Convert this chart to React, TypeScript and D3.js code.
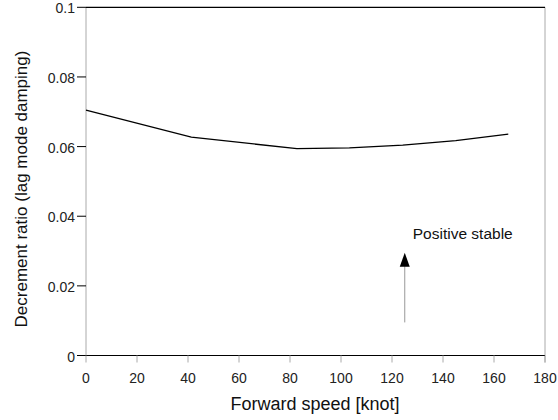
import React from "react";
import * as d3 from "d3";

const speeds = [0, 41.3, 82.7, 103.3, 124.2, 145, 165.6];
const ratios = [0.0705, 0.0627, 0.0594, 0.0596, 0.0604, 0.0617, 0.0636];
const xTicks = [0, 20, 40, 60, 80, 100, 120, 140, 160, 180];
const yTicks = [0, 0.02, 0.04, 0.06, 0.08, 0.1];
const yTickLabels = ["0", "0.02", "0.04", "0.06", "0.08", "0.1"];
const arrowSpeed = 125;
const arrowFrom = 0.0095;
const arrowTo = 0.0295;
const annotation = "Positive stable";

export default function App() {
  const W = 558, H = 420;
  const x = d3.scaleLinear().domain([0, 180]).range([86, 545]);
  const y = d3.scaleLinear().domain([0, 0.1]).range([355.5, 7.3]);
  const line = d3.line<number>().x((_, i) => x(speeds[i])).y((d) => y(d));
  const font = "Liberation Sans, Arial, sans-serif";
  const ax = x(arrowSpeed);
  return (
    <svg width={W} height={H} style={{ position: "absolute", left: 0, top: 0 }}>
      <rect width={W} height={H} fill="#fff" />
      {/* frame */}
      <line x1={x(0)} x2={x(0)} y1={y(0.1)} y2={y(0)} stroke="#aaa" strokeWidth={1} />
      <line x1={x(180)} x2={x(180)} y1={y(0.1)} y2={y(0) + 7} stroke="#aaa" strokeWidth={1} />
      <line x1={x(0)} x2={x(180)} y1={y(0.1)} y2={y(0.1)} stroke="#000" strokeWidth={1.2} />
      <line x1={x(0)} x2={x(180)} y1={y(0)} y2={y(0)} stroke="#000" strokeWidth={1.2} />
      {/* y ticks */}
      {yTicks.map((t, i) => (
        <g key={"y" + i}>
          <line x1={x(0) - 9} x2={x(0)} y1={y(t)} y2={y(t)} stroke="#000" strokeWidth={1} />
          <text x={x(0) - 11} y={y(t) + 6} textAnchor="end" fontSize={14} fontFamily={font} fill="#222">
            {yTickLabels[i]}
          </text>
        </g>
      ))}
      {/* x ticks */}
      {xTicks.map((t, i) => (
        <g key={"x" + i}>
          <line x1={x(t)} x2={x(t)} y1={y(0)} y2={y(0) + 7} stroke="#aaa" strokeWidth={1} />
          <text x={x(t)} y={382.5} textAnchor="middle" fontSize={14} fontFamily={font} fill="#222">
            {String(t)}
          </text>
        </g>
      ))}
      {/* data line */}
      <path d={line(ratios) || ""} fill="none" stroke="#000" strokeWidth={1.3} />
      {/* arrow */}
      <line x1={ax} x2={ax} y1={y(arrowFrom)} y2={y(arrowTo) + 13} stroke="#999" strokeWidth={1} />
      <path d={`M${ax},${y(arrowTo)} L${ax - 5},${y(arrowTo) + 14} L${ax + 5},${y(arrowTo) + 14} Z`} fill="#000" />
      <text x={ax + 8} y={239} fontSize={15.5} fontFamily={font} fill="#111">{annotation}</text>
      {/* titles */}
      <text x={315} y={410} textAnchor="middle" fontSize={18} fontFamily={font} fill="#111">
        Forward speed [knot]
      </text>
      <text transform={`translate(27,189) rotate(-90)`} textAnchor="middle" fontSize={17} fontFamily={font} fill="#111">
        Decrement ratio (lag mode damping)
      </text>
    </svg>
  );
}
